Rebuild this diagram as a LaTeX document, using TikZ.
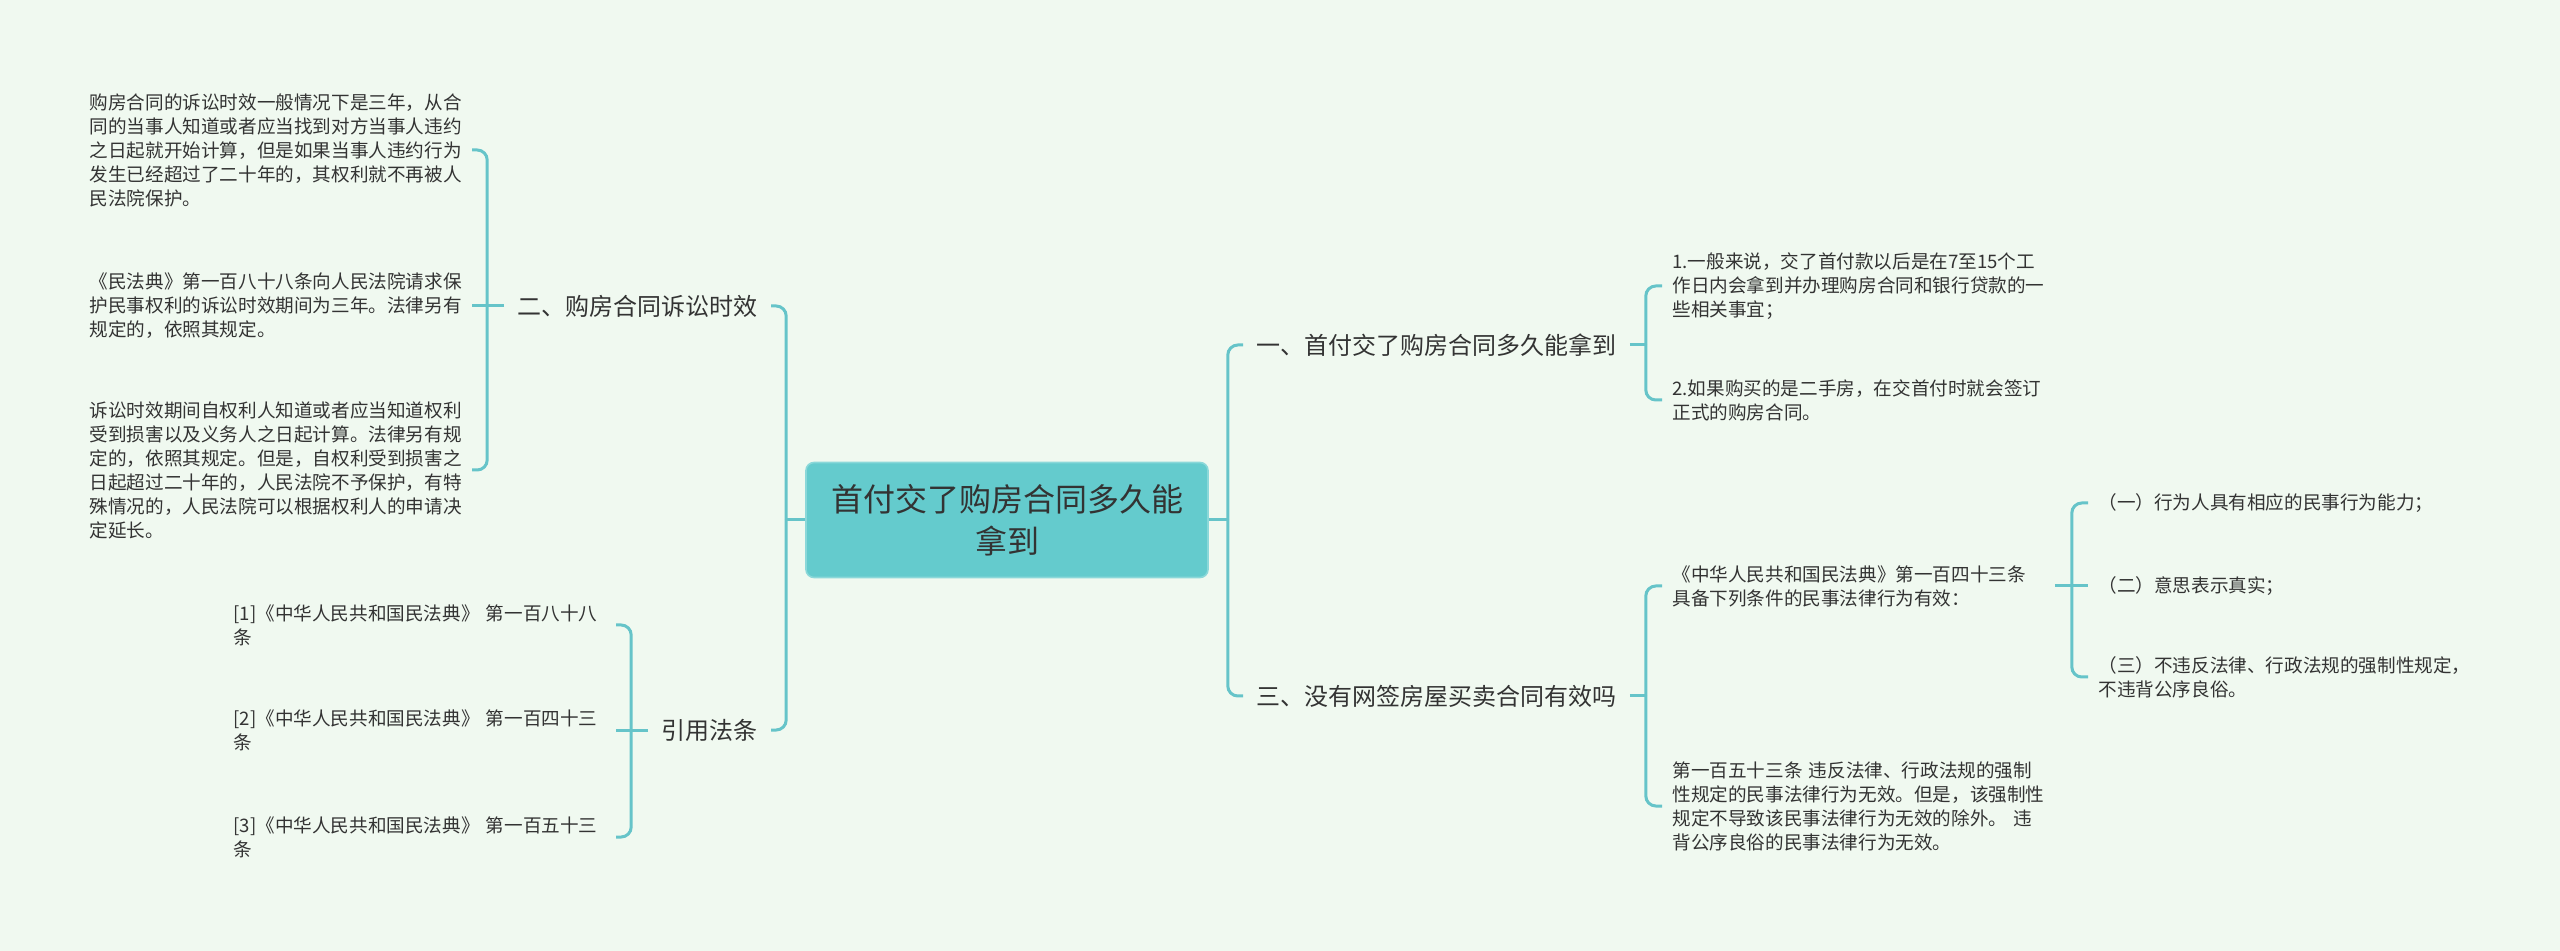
\documentclass[tikz,border=0pt]{standalone}
\usepackage{fontspec}
\setmainfont{Noto Sans CJK SC}
\definecolor{bgmint}{HTML}{F0F9F0}
\definecolor{linkteal}{HTML}{66C4C9}
\definecolor{rootteal}{HTML}{64CBCD}
\definecolor{inkgray}{HTML}{333333}
\begin{document}
\begin{tikzpicture}[x=0.5pt,y=-0.5pt,
  link/.style={draw=linkteal,line width=1.5pt,rounded corners=5pt},
  rootbox/.style={fill=rootteal,draw=rootteal!75!white,line width=0.8pt,rounded corners=4pt,
    minimum width=201pt,minimum height=57.5pt,align=center,
    font=\fontsize{16pt}{21pt}\selectfont,text=inkgray},
  branch/.style={inner xsep=6.5pt,inner ysep=2pt,font=\fontsize{12pt}{15pt}\selectfont,text=inkgray},
  leaf/.style={inner xsep=5pt,inner ysep=2pt,text width=186pt,align=left,
    font=\fontsize{9.3pt}{12pt}\selectfont,text=inkgray}]
\fill[bgmint] (0,0) rectangle (2560,951);
\useasboundingbox (0,0) rectangle (2560,951);
\node[rootbox] (root) at (1007,520) {首付交了购房合同多久能\\拿到};
\node[branch,anchor=east] (lim) at (771,306) {二、购房合同诉讼时效};
\node[branch,anchor=east] (cite) at (771,730) {引用法条};
\node[branch,anchor=west] (get) at (1243,345) {一、首付交了购房合同多久能拿到};
\node[branch,anchor=west] (valid) at (1243,696) {三、没有网签房屋买卖合同有效吗};
\node[leaf,anchor=east] (lim1) at (472,150) {购房合同的诉讼时效一般情况下是三年，从合\\同的当事人知道或者应当找到对方当事人违约\\之日起就开始计算，但是如果当事人违约行为\\发生已经超过了二十年的，其权利就不再被人\\民法院保护。};
\node[leaf,anchor=east] (lim2) at (472,306) {《民法典》第一百八十八条向人民法院请求保\\护民事权利的诉讼时效期间为三年。法律另有\\规定的，依照其规定。};
\node[leaf,anchor=east] (lim3) at (472,470) {诉讼时效期间自权利人知道或者应当知道权利\\受到损害以及义务人之日起计算。法律另有规\\定的，依照其规定。但是，自权利受到损害之\\日起超过二十年的，人民法院不予保护，有特\\殊情况的，人民法院可以根据权利人的申请决\\定延长。};
\node[leaf,anchor=east] (cite1) at (616,625) {[1]《中华人民共和国民法典》 第一百八十八\\条};
\node[leaf,anchor=east] (cite2) at (616,730) {[2]《中华人民共和国民法典》 第一百四十三\\条};
\node[leaf,anchor=east] (cite3) at (616,837) {[3]《中华人民共和国民法典》 第一百五十三\\条};
\node[leaf,anchor=west] (get1) at (1662,286) {1.一般来说，交了首付款以后是在7至15个工\\作日内会拿到并办理购房合同和银行贷款的一\\些相关事宜；};
\node[leaf,anchor=west] (get2) at (1662,400) {2.如果购买的是二手房，在交首付时就会签订\\正式的购房合同。};
\node[leaf,anchor=west] (valid1) at (1662,586) {《中华人民共和国民法典》第一百四十三条\\具备下列条件的民事法律行为有效：};
\node[leaf,anchor=west] (valid2) at (1662,806) {第一百五十三条 违反法律、行政法规的强制\\性规定的民事法律行为无效。但是，该强制性\\规定不导致该民事法律行为无效的除外。 违\\背公序良俗的民事法律行为无效。};
\node[leaf,anchor=west] (cond1) at (2088,503) {（一）行为人具有相应的民事行为能力；};
\node[leaf,anchor=west] (cond2) at (2088,586) {（二）意思表示真实；};
\node[leaf,anchor=west] (cond3) at (2088,677) {（三）不违反法律、行政法规的强制性规定，\\不违背公序良俗。};
\draw[link] (root.west) -- ++(-19,0) coordinate (jl);
\draw[link] (jl) |- (lim.east);
\draw[link] (jl) |- (cite.east);
\draw[link] (root.east) -- ++(19,0) coordinate (jr);
\draw[link] (jr) |- (get.west);
\draw[link] (jr) |- (valid.west);
\draw[link] (lim.west) -- ++(-17,0) coordinate (jlim);
\draw[link] (jlim) |- (lim1.east);
\draw[link] (jlim) -- (lim2.east);
\draw[link] (jlim) |- (lim3.east);
\draw[link] (cite.west) -- ++(-17,0) coordinate (jcite);
\draw[link] (jcite) |- (cite1.east);
\draw[link] (jcite) -- (cite2.east);
\draw[link] (jcite) |- (cite3.east);
\draw[link] (get.east) -- ++(16,0) coordinate (jget);
\draw[link] (jget) |- (get1.west);
\draw[link] (jget) |- (get2.west);
\draw[link] (valid.east) -- ++(16,0) coordinate (jvalid);
\draw[link] (jvalid) |- (valid1.west);
\draw[link] (jvalid) |- (valid2.west);
\draw[link] (valid1.east) -- ++(17,0) coordinate (jcond);
\draw[link] (jcond) |- (cond1.west);
\draw[link] (jcond) -- (cond2.west);
\draw[link] (jcond) |- (cond3.west);
\end{tikzpicture}
\end{document}
